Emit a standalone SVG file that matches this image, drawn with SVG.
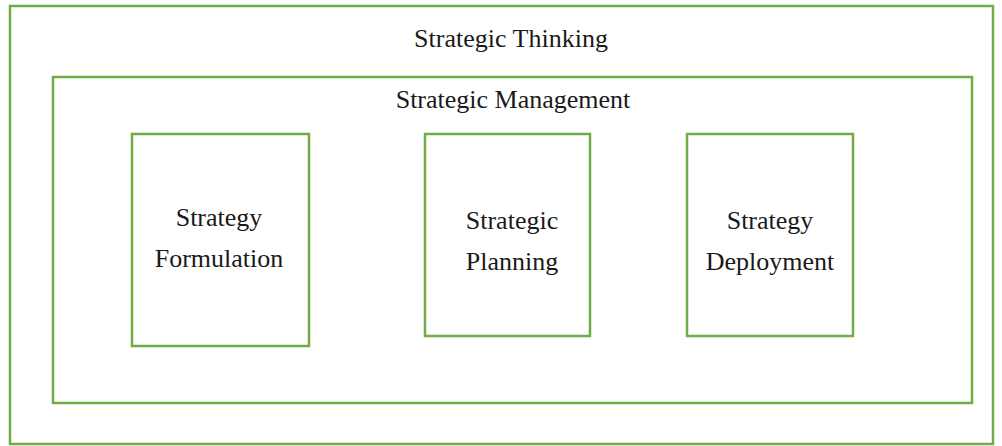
<svg xmlns="http://www.w3.org/2000/svg" width="1002" height="446" viewBox="0 0 1002 446">
<style>
rect{fill:none;stroke:#70AD47;stroke-width:2.5}
text{font-family:"Liberation Serif","Times New Roman",serif;font-size:26px;fill:#1a1a1a;text-anchor:middle}
</style>
<rect width="1002" height="446" fill="#fff" style="fill:#fff;stroke:none"/>
<g id="thinking"><rect x="10" y="6" width="983" height="438"/><text x="511" y="47">Strategic Thinking</text></g>
<g id="management"><rect x="53" y="77" width="919" height="326"/><text x="513" y="108">Strategic Management</text></g>
<g id="formulation"><rect x="132" y="134" width="177" height="212"/><text x="219" y="226">Strategy</text><text x="219" y="267">Formulation</text></g>
<g id="planning"><rect x="425" y="134" width="165" height="202"/><text x="512" y="229">Strategic</text><text x="512" y="270">Planning</text></g>
<g id="deployment"><rect x="687" y="134" width="166" height="202"/><text x="770" y="229">Strategy</text><text x="770" y="270">Deployment</text></g>
<g id="connectors"/>
</svg>
